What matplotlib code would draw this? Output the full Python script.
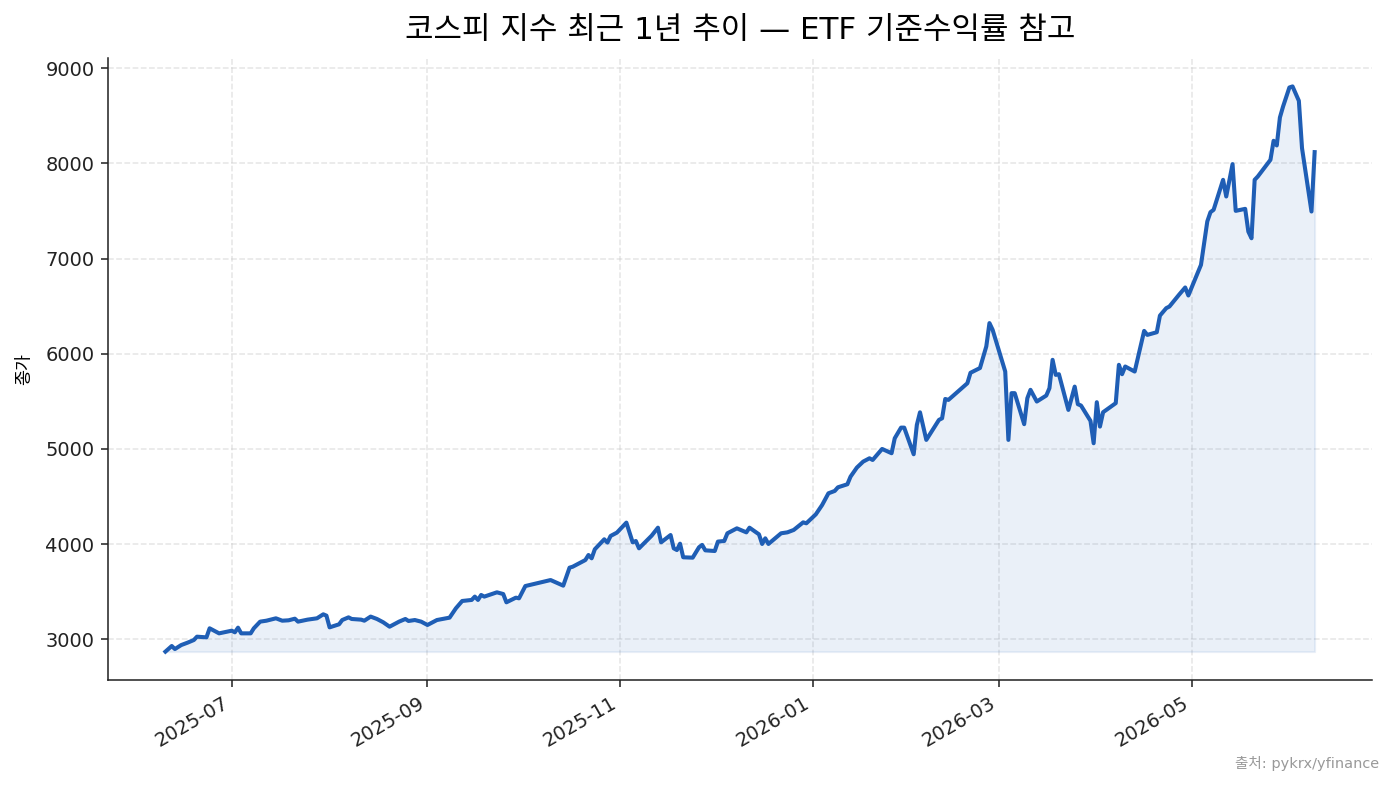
import matplotlib
matplotlib.use("Agg")
import matplotlib.pyplot as plt
import matplotlib.dates as mdates
import pandas as pd
import numpy as np

plt.rcParams['font.family'] = ['DejaVu Sans', 'Noto Sans CJK KR']
plt.rcParams['axes.unicode_minus'] = False

dates = [
    "2025-06-10", "2025-06-12", "2025-06-13", "2025-06-15", "2025-06-17", "2025-06-19",
    "2025-06-20", "2025-06-23", "2025-06-24", "2025-06-27",
    "2025-07-01", "2025-07-02", "2025-07-03", "2025-07-04", "2025-07-07", "2025-07-08",
    "2025-07-10", "2025-07-12", "2025-07-15", "2025-07-17", "2025-07-19", "2025-07-21",
    "2025-07-22", "2025-07-25", "2025-07-28", "2025-07-30", "2025-07-31",
    "2025-08-01", "2025-08-04", "2025-08-05", "2025-08-07", "2025-08-08", "2025-08-11",
    "2025-08-12", "2025-08-14", "2025-08-16", "2025-08-18", "2025-08-20", "2025-08-23",
    "2025-08-25", "2025-08-26", "2025-08-28", "2025-08-30",
    "2025-09-01", "2025-09-04", "2025-09-08", "2025-09-10", "2025-09-12", "2025-09-15",
    "2025-09-16", "2025-09-17", "2025-09-18", "2025-09-19", "2025-09-23", "2025-09-25",
    "2025-09-26", "2025-09-29", "2025-09-30",
    "2025-10-02", "2025-10-10", "2025-10-14", "2025-10-16", "2025-10-17", "2025-10-21",
    "2025-10-22", "2025-10-23", "2025-10-24", "2025-10-27", "2025-10-28", "2025-10-29",
    "2025-10-31",
    "2025-11-03", "2025-11-05", "2025-11-06", "2025-11-07", "2025-11-11", "2025-11-13",
    "2025-11-14", "2025-11-17", "2025-11-18", "2025-11-19", "2025-11-20", "2025-11-21",
    "2025-11-24", "2025-11-26", "2025-11-27", "2025-11-28",
    "2025-12-01", "2025-12-02", "2025-12-04", "2025-12-05", "2025-12-08", "2025-12-11",
    "2025-12-12", "2025-12-15", "2025-12-16", "2025-12-17", "2025-12-18", "2025-12-22",
    "2025-12-24", "2025-12-26", "2025-12-29", "2025-12-30",
    "2026-01-02", "2026-01-04", "2026-01-06", "2026-01-08", "2026-01-09", "2026-01-12",
    "2026-01-13", "2026-01-15", "2026-01-17", "2026-01-19", "2026-01-20", "2026-01-23",
    "2026-01-26", "2026-01-27", "2026-01-29", "2026-01-30",
    "2026-02-02", "2026-02-03", "2026-02-04", "2026-02-06", "2026-02-10", "2026-02-11",
    "2026-02-12", "2026-02-13", "2026-02-19", "2026-02-20", "2026-02-23", "2026-02-25",
    "2026-02-26", "2026-02-27",
    "2026-03-03", "2026-03-04", "2026-03-05", "2026-03-06", "2026-03-09", "2026-03-10",
    "2026-03-11", "2026-03-13", "2026-03-16", "2026-03-17", "2026-03-18", "2026-03-19",
    "2026-03-20", "2026-03-23", "2026-03-25", "2026-03-26", "2026-03-27", "2026-03-30",
    "2026-03-31",
    "2026-04-01", "2026-04-02", "2026-04-03", "2026-04-07", "2026-04-08", "2026-04-09",
    "2026-04-10", "2026-04-13", "2026-04-16", "2026-04-17", "2026-04-20", "2026-04-21",
    "2026-04-23", "2026-04-24", "2026-04-27", "2026-04-29", "2026-04-30",
    "2026-05-04", "2026-05-06", "2026-05-07", "2026-05-08", "2026-05-11", "2026-05-12",
    "2026-05-14", "2026-05-15", "2026-05-18", "2026-05-19", "2026-05-20", "2026-05-21",
    "2026-05-22", "2026-05-26", "2026-05-27", "2026-05-28", "2026-05-29", "2026-05-30",
    "2026-06-01", "2026-06-02", "2026-06-04", "2026-06-05", "2026-06-08", "2026-06-09",
]

close = [
    2871, 2930, 2898, 2940, 2965, 2993,
    3028, 3021, 3116, 3063,
    3091, 3074, 3123, 3063, 3063, 3116,
    3186, 3196, 3221, 3196, 3200, 3217,
    3186, 3207, 3221, 3263, 3249,
    3126, 3158, 3203, 3231, 3214, 3207,
    3196, 3239, 3214, 3179, 3133, 3186,
    3214, 3193, 3203, 3186,
    3151, 3203, 3228, 3326, 3403, 3414,
    3449, 3414, 3466, 3449, 3494, 3476,
    3389, 3438, 3431,
    3560, 3623, 3564, 3753, 3763, 3833,
    3886, 3851, 3946, 4051, 4016, 4086,
    4121,
    4226, 4019, 4033, 3956, 4089, 4173,
    4019, 4096, 3956, 3938, 4005, 3862,
    3858, 3967, 3992, 3935,
    3928, 4027, 4033, 4114, 4166, 4124,
    4173, 4103, 4002, 4061, 4002, 4114,
    4124, 4149, 4229, 4219,
    4313, 4411, 4534, 4559, 4597, 4629,
    4709, 4804, 4867, 4902, 4884, 5000,
    4955, 5112, 5224, 5224,
    4944, 5252, 5385, 5095, 5305, 5322,
    5525, 5515, 5690, 5800, 5850, 6077,
    6322, 6252,
    5813, 5095, 5586, 5586, 5260, 5533,
    5621, 5498, 5561, 5638, 5936, 5778,
    5785, 5410, 5655, 5470, 5456, 5295,
    5060,
    5491, 5235, 5386, 5481, 5884, 5785,
    5866, 5813, 6240, 6198, 6226, 6401,
    6479, 6496, 6618, 6696, 6612,
    6934, 7390, 7487, 7512, 7827, 7652,
    7992, 7501, 7522, 7283, 7213, 7827,
    7862, 8037, 8237, 8188, 8482, 8597,
    8797, 8808, 8657, 8160, 7494, 8118,
]

title = "코스피 지수 최근 1년 추이 — ETF 기준수익률 참고"
ylabel = "종가"
source = "출처: pykrx/yfinance"

line_color = "#1f5eb5"

x = pd.to_datetime(dates)
y = np.array(close, dtype=float)

DPI = 139.3
fig = plt.figure(figsize=(1393 / DPI, 786 / DPI), dpi=DPI)
ax = fig.add_axes([0.0775, 0.135, 0.9075, 0.791])

ax.plot(x, y, color=line_color, linewidth=2.1, zorder=3)
ax.fill_between(x, y, y.min(), color=line_color, alpha=0.09, linewidth=1, zorder=2)

ax.xaxis.set_major_locator(mdates.MonthLocator(bymonth=[1, 3, 5, 7, 9, 11]))
ax.xaxis.set_major_formatter(mdates.DateFormatter("%Y-%m"))
for lbl in ax.get_xticklabels():
    lbl.set_rotation(30)
    lbl.set_ha("right")

ax.grid(True, linestyle="--", linewidth=0.8, color="#cccccc", alpha=0.5)
ax.set_axisbelow(True)
ax.spines["top"].set_visible(False)
ax.spines["right"].set_visible(False)
ax.spines["left"].set_color("#222222")
ax.spines["bottom"].set_color("#222222")
ax.tick_params(axis="both", labelsize=10, colors="#222222")

ax.set_ylabel(ylabel, fontsize=9)
ax.yaxis.set_label_coords(-0.059, 0.5)
ax.set_title(title, fontsize=16, pad=10)

fig.text(0.99, 0.029, source, ha="right", va="center", fontsize=7.5, color="#999999")

fig.savefig("out.png", dpi=DPI)
